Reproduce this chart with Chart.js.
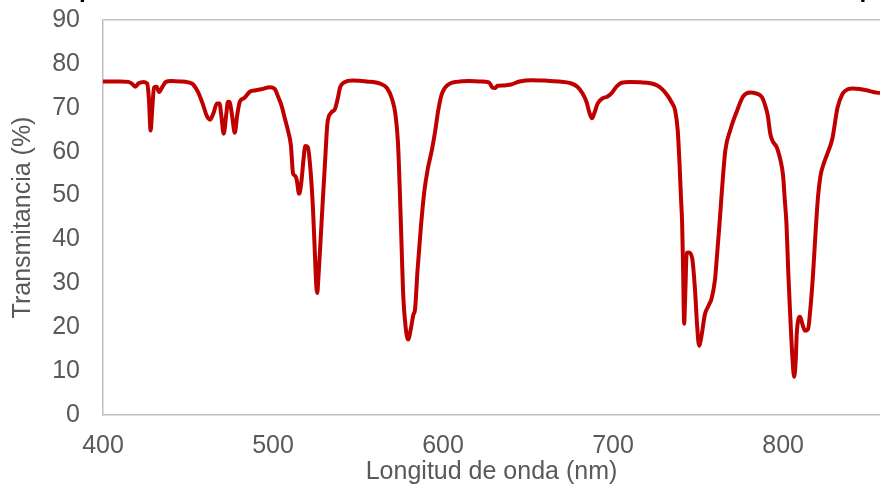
<!DOCTYPE html>
<html>
<head>
<meta charset="utf-8">
<script src="https://cdn.jsdelivr.net/npm/chart.js@4.4.0/dist/chart.umd.min.js"></script>
<style>
    html, body { margin: 0; padding: 0; background: #fff; overflow: hidden; }
</style>
</head>
<body>
<canvas id="grafico" width="880" height="487"></canvas>
<script>
var longitudes = [400, 405, 410, 415, 417, 419, 421, 424, 426, 427, 428, 429, 430, 431.5, 433, 435, 437, 440, 445, 450,
    453, 456, 459, 461, 463, 465, 467, 468.5, 469.5, 471, 472.5, 473.5, 474.5, 476, 477.5, 479, 480.5, 483, 486.5, 490,
    494, 498, 501, 503, 505, 507, 509, 510.5, 511.8, 513, 514, 515.3, 516.5, 518, 519, 520.5, 522, 523.5, 524.5, 525.5,
    526, 526.8, 528, 529, 530.5, 532, 534, 536.5, 538, 539.5, 542, 547, 555, 563, 567, 570, 572, 573.5, 574.5, 575.5,
    576.5, 578, 579.5, 581, 582.5, 583.5, 585, 587, 589, 591, 593.5, 595.5, 597, 599, 601, 604, 608, 615, 622, 627,
    629, 630.5, 632, 636, 640, 645, 652, 660, 668, 675, 679, 682, 684.5, 686, 687.6, 689, 691, 694, 696.5, 699,
    702, 705, 710, 716, 722, 726, 729, 732, 734.5, 736.5, 738, 739, 740, 740.6, 741.2, 741.8, 742.5, 743.3, 744.5, 746.5,
    748.2, 749.5, 750.6, 752, 754, 756, 758, 760, 761, 762.5, 764, 766, 769, 773, 776.5, 780.6, 784, 787.6, 789.5, 791,
    792.5, 794, 796, 797, 798.5, 800, 801, 802, 803, 804, 805.5, 806.5, 807.5, 808, 809, 810, 811.5, 813, 814.7, 816,
    817.6, 819, 820.6, 822, 823.5, 826, 829, 832, 835, 838, 841, 845, 849, 853, 857, 860];
var transmitancia = [76.0, 76.0, 76.0, 75.9, 75.5, 74.8, 75.6, 75.9, 75.5, 72, 64.8, 70, 74.6, 74.8, 73.6, 74.8, 75.9, 76.1, 76.0, 75.8,
    75.3, 73.5, 70.5, 68.2, 67.3, 68.8, 71.0, 71.0, 68.5, 64.1, 68.5, 71.4, 71.3, 68, 64.3, 68.5, 71.4, 72.2, 73.7, 74.0,
    74.3, 74.7, 74.3, 72.5, 70.5, 67.5, 64.5, 61.5, 55, 54.5, 53.5, 50.4, 52.5, 58.5, 61.3, 61.0, 56, 47, 38, 29,
    27.8, 32, 40, 47, 57, 66.4, 68.8, 69.8, 72, 74.7, 75.8, 76.2, 76.0, 75.5, 74.5, 72, 68.5, 62, 52, 40,
    28, 20, 17.2, 19.5, 22.8, 24, 33, 43, 51, 56, 60.5, 65, 69, 72.8, 74.5, 75.5, 75.9, 76.1, 76.0, 75.8,
    74.6, 74.5, 75, 75.1, 75.3, 76.0, 76.3, 76.2, 76.0, 75.6, 74.8, 73.3, 71.2, 69, 67.6, 68.8, 71, 72.2, 72.5, 73.3,
    74.8, 75.7, 75.9, 75.8, 75.6, 75.1, 74.2, 72.8, 71.2, 69.4, 65, 58, 49, 44, 33, 20.8, 28, 36.9, 37, 35.8,
    28.5, 20, 15.8, 18, 22.9, 24.8, 26.6, 31, 35.7, 43, 51, 60.2, 65, 69.4, 72.6, 73.5, 73.3, 72.4, 70.5, 68.2,
    64, 62.3, 61.2, 60.2, 58, 54.5, 49, 43.5, 33, 24.3, 13, 8.7, 13, 18.3, 21.8, 22.4, 20.5, 19.2, 19.6, 24,
    32, 41, 50, 54.5, 56.8, 59.5, 63, 70, 73.2, 74.2, 74.4, 74.3, 74.0, 73.6, 73.3, 73.0];
var ticksX = [400, 500, 600, 700, 800];
var titulo = "Espectro de transmitancia del filtro de holmio en la zona visible del espectro";

var puntos = [];
for (var i = 0; i < longitudes.length; i++) {
    puntos.push({ x: longitudes[i], y: transmitancia[i] });
}

// el titulo queda cortado arriba, solo asoman las colas de las dos "p"
var tituloCortado = {
    id: 'tituloCortado',
    afterDraw: function (chart) {
        var ctx = chart.ctx;
        var familia = '"Liberation Sans", Arial, sans-serif';
        ctx.save();
        ctx.font = 'bold 26px ' + familia;
        var i1 = titulo.indexOf('p');
        var i2 = titulo.lastIndexOf('p');
        var d = ctx.measureText(titulo.slice(0, i2)).width - ctx.measureText(titulo.slice(0, i1)).width;
        var tam = 26 * 780 / d;
        ctx.font = 'bold ' + tam.toFixed(1) + 'px ' + familia;
        ctx.fillStyle = '#000000';
        ctx.textBaseline = 'alphabetic';
        var x0 = 79 - ctx.measureText(titulo.slice(0, i1)).width;
        ctx.fillText(titulo, x0, -3);
        ctx.restore();
    }
};

Chart.defaults.font.family = '"Liberation Sans", Arial, sans-serif';
Chart.defaults.color = '#595959';

var ctx = document.getElementById('grafico').getContext('2d');
var chart = new Chart(ctx, {
    type: 'line',
    data: {
        datasets: [{
            label: 'Transmitancia',
            data: puntos,
            borderColor: '#C00000',
            backgroundColor: '#C00000',
            borderWidth: 4,
            pointRadius: 0,
            cubicInterpolationMode: 'monotone',
            fill: false
        }]
    },
    options: {
        responsive: false,
        animation: false,
        devicePixelRatio: 1,
        layout: { padding: { top: 20, right: 0, left: 0, bottom: 0 } },
        plugins: {
            legend: { display: false },
            tooltip: { enabled: false }
        },
        scales: {
            x: {
                type: 'linear',
                min: 400,
                max: 857,
                afterBuildTicks: function (s) {
                    s.ticks = ticksX.map(function (v) { return { value: v }; });
                },
                afterFit: function (s) {
                    s.height = 72;
                    s.paddingLeft = 0;
                    s.paddingRight = 0;
                },
                ticks: { font: { size: 25 }, padding: 16, maxRotation: 0, includeBounds: false },
                grid: { display: false, drawTicks: false },
                border: { display: true, color: '#BFBFBF', width: 1.5 },
                title: {
                    display: true,
                    text: 'Longitud de onda (nm)',
                    font: { size: 25 },
                    padding: { top: 0, bottom: 0 }
                }
            },
            y: {
                min: 0,
                max: 90,
                afterFit: function (s) {
                    s.width = 103;
                    s.paddingTop = 0;
                    s.paddingBottom = 0;
                },
                ticks: { stepSize: 10, font: { size: 25 }, padding: 23 },
                grid: {
                    drawTicks: false,
                    lineWidth: 1.5,
                    color: function (c) { return c.tick && c.tick.value === 90 ? '#BFBFBF' : 'rgba(0,0,0,0)'; }
                },
                border: { display: true, color: '#BFBFBF', width: 1.5 },
                title: {
                    display: true,
                    text: 'Transmitancia (%)',
                    font: { size: 25 },
                    padding: { top: 8, bottom: 0 }
                }
            }
        }
    },
    plugins: [tituloCortado]
});
</script>
</body>
</html>
